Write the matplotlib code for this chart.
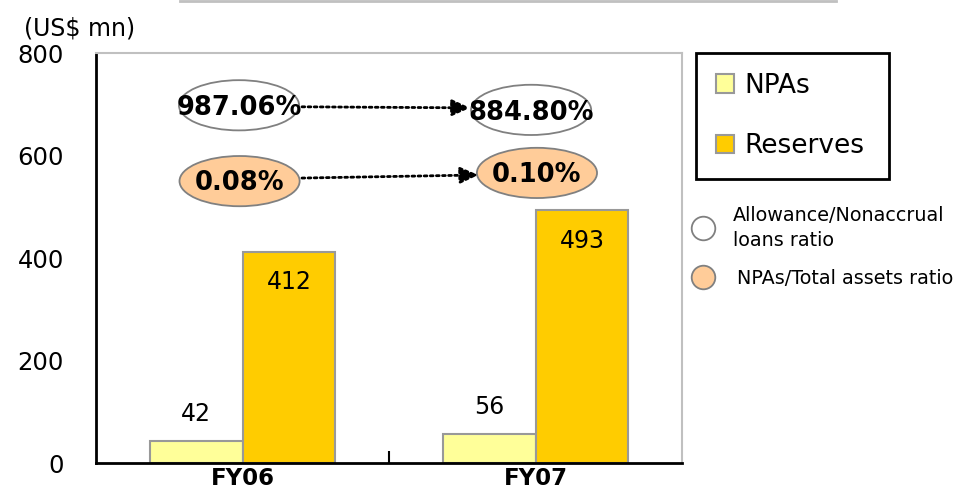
import matplotlib.pyplot as plt
from matplotlib.patches import Ellipse
from matplotlib.lines import Line2D

years = ['FY06', 'FY07']
npas = [42, 56]
reserves = [412, 493]
allowance_ratio = ['987.06%', '884.80%']
npa_assets_ratio = ['0.08%', '0.10%']

plt.rcParams['font.family'] = 'DejaVu Sans'

fig = plt.figure(figsize=(9.56, 4.94), dpi=100)
W, H = 956, 494


def fx(px):
    return px / W


def fy(py):
    return 1 - py / H


ax = fig.add_axes([fx(96), fy(463), 586 / W, 410 / H])

x = [0, 1]
w = 0.317
ax.bar([i - w / 2 for i in x], npas, w, color='#FFFF99', edgecolor='#999999', linewidth=1.5, label='NPAs')
ax.bar([i + w / 2 for i in x], reserves, w, color='#FFCC00', edgecolor='#999999', linewidth=1.5, label='Reserves')

for i in x:
    ax.text(i - w / 2, npas[i] + 30, str(npas[i]), ha='center', va='bottom', fontsize=17)
    ax.text(i + w / 2, reserves[i] - 36, str(reserves[i]), ha='center', va='top', fontsize=17)

ax.set_xlim(-0.5, 1.5)
ax.set_ylim(0, 800)
ax.set_yticks([0, 200, 400, 600, 800])
ax.tick_params(axis='y', length=0, pad=23, labelsize=17.5)
ax.set_xticks(x)
ax.set_xticklabels(years, fontweight='bold', fontsize=16.5)
ax.tick_params(axis='x', length=0, pad=3)
ax.set_xticks([0.5], minor=True)
ax.tick_params(axis='x', which='minor', direction='in', length=9, width=1.5)

for s in ['left', 'bottom']:
    ax.spines[s].set_linewidth(2)
for s in ['top', 'right']:
    ax.spines[s].set_color('#c0c0c0')
    ax.spines[s].set_linewidth(1.5)

# ratio bubbles
ell_w, ell_h = 0.41, 98
top_pos = [(-0.012, 698), (0.985, 689)]
low_pos = [(-0.01, 550), (1.005, 566)]
for (cx, cy), lab in zip(top_pos, allowance_ratio):
    ax.add_patch(Ellipse((cx, cy), ell_w, ell_h, facecolor='white', edgecolor='#808080', linewidth=1.3, zorder=3))
    ax.text(cx, cy - 6, lab, ha='center', va='center', fontsize=18.5, fontweight='bold', zorder=4)
for (cx, cy), lab in zip(low_pos, npa_assets_ratio):
    ax.add_patch(Ellipse((cx, cy), ell_w, ell_h, facecolor='#FFCC99', edgecolor='#808080', linewidth=1.3, zorder=3))
    ax.text(cx, cy - 4, lab, ha='center', va='center', fontsize=18.5, fontweight='bold', zorder=4)

arrow = dict(arrowstyle='-|>,head_length=1.1,head_width=0.5', linestyle=(0, (1, 1.2)), color='black', lw=2,
             shrinkA=0, shrinkB=0)
ax.annotate('', xy=(0.777, 693), xytext=(0.203, 695), arrowprops=arrow, zorder=5)
ax.annotate('', xy=(0.805, 562), xytext=(0.203, 556), arrowprops=arrow, zorder=5)

ax.text(-0.745, 825, '(US$ mn)', fontsize=17, ha='left', va='bottom', clip_on=False)

leg = fig.legend(loc='upper left', bbox_to_anchor=(fx(696), fy(178), 193 / W, 125 / H), mode='expand',
                 fontsize=19, frameon=True, fancybox=False, edgecolor='black', framealpha=1,
                 handlelength=0.7, handleheight=0.7, handletextpad=0.4, labelspacing=1.3,
                 borderpad=0.75, borderaxespad=0)
leg.get_frame().set_linewidth(2)

fig.add_artist(Line2D([fx(703)], [fy(228)], marker='o', markersize=17, markerfacecolor='white',
                      markeredgecolor='#808080', markeredgewidth=1.3, transform=fig.transFigure))
fig.add_artist(Line2D([fx(703)], [fy(277)], marker='o', markersize=17, markerfacecolor='#FFCC99',
                      markeredgecolor='#808080', markeredgewidth=1.3, transform=fig.transFigure))
fig.text(fx(733), fy(228), 'Allowance/Nonaccrual\nloans ratio', fontsize=13.8, va='center', linespacing=1.45)
fig.text(fx(737), fy(278), 'NPAs/Total assets ratio', fontsize=13.8, va='center')

fig.add_artist(Line2D([fx(180), fx(836)], [fy(1), fy(1)], color='#c0c0c0', lw=2, transform=fig.transFigure))

fig.savefig('out.png', dpi=100)
